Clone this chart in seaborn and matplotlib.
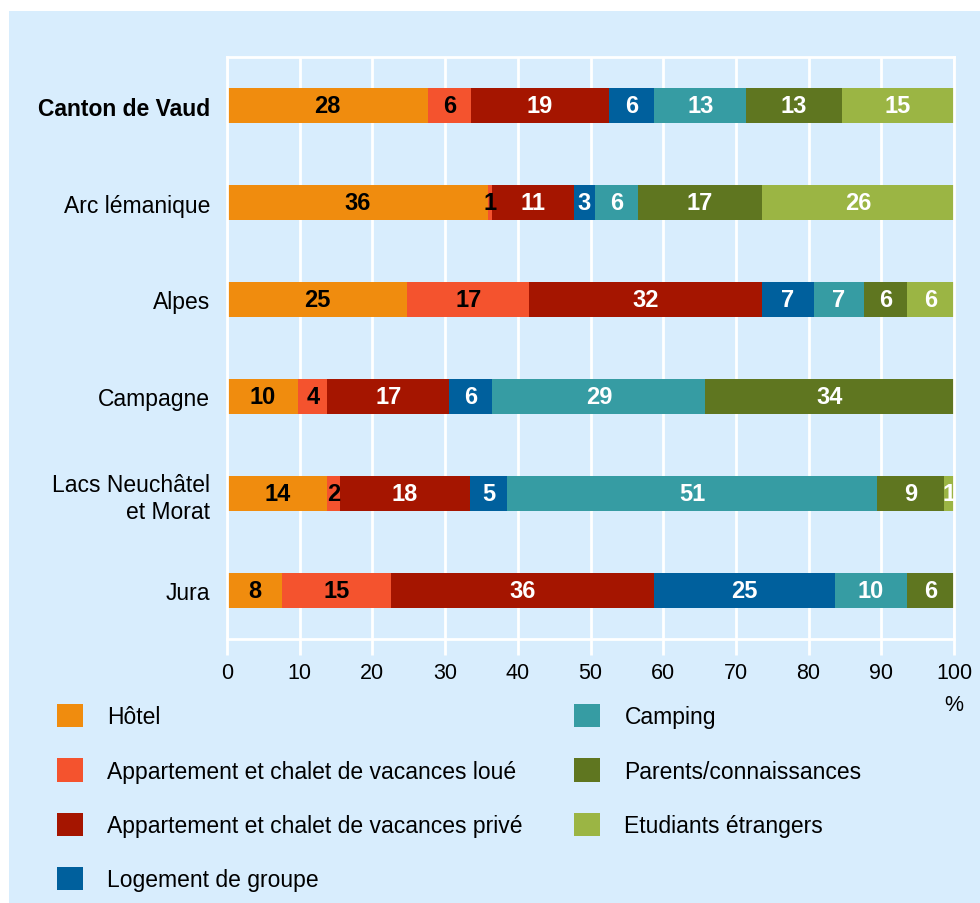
import matplotlib
matplotlib.use("Agg")
import matplotlib.pyplot as plt
from matplotlib.patches import Rectangle
import numpy as np
import seaborn as sns

# Données (parts en %)
regions = ["Canton de Vaud", "Arc lémanique", "Alpes", "Campagne",
           "Lacs Neuchâtel\net Morat", "Jura"]
categories = ["Hôtel", "Appartement et chalet de vacances loué",
              "Appartement et chalet de vacances privé", "Logement de groupe",
              "Camping", "Parents/connaissances", "Etudiants étrangers"]
hotel = [27.7, 35.9, 24.8, 9.8, 13.8, 7.6]
loue = [5.9, 0.6, 16.8, 4.0, 1.8, 15.0]
prive = [18.9, 11.2, 32.0, 16.8, 17.8, 36.2]
groupe = [6.3, 2.9, 7.1, 5.9, 5.1, 24.8]
camping = [12.6, 5.9, 6.9, 29.3, 50.9, 10.0]
parents = [13.2, 17.1, 6.0, 34.2, 9.2, 6.4]
etudiants = [15.4, 26.4, 6.4, 0.0, 1.4, 0.0]
x_ticks = [0, 10, 20, 30, 40, 50, 60, 70, 80, 90, 100]

series = [hotel, loue, prive, groupe, camping, parents, etudiants]
colors = ["#f08c0e", "#f4532e", "#a51500", "#00609d", "#369ca3", "#5f7620", "#9bb544"]
text_colors = ["black", "black", "white", "white", "white", "white", "white"]
bg = "#d8edfd"

sns.set_style("white")
plt.rcParams["font.family"] = ["Liberation Sans", "DejaVu Sans"]
plt.rcParams["text.color"] = "black"

fig = plt.figure(figsize=(9.8, 9.04), dpi=100)
fig.add_artist(Rectangle((9 / 980, 0), 1, 1 - 12 / 904, transform=fig.transFigure,
                         facecolor=bg, edgecolor="none", zorder=-10))
ax = fig.add_axes([227 / 980, 1 - 640 / 904, 727 / 980, 582 / 904])
ax.set_facecolor(bg)

left = np.zeros(len(regions))
for vals, name, col, tc in zip(series, categories, colors, text_colors):
    sns.barplot(x=vals, y=regions, orient="h", color=col, saturation=1,
                width=0.37, errorbar=None, left=left, label=name,
                linewidth=0, edgecolor="none", ax=ax)
    cont = ax.containers[-1]
    ax.bar_label(cont, labels=[f"{v:.0f}" if v > 0 else "" for v in vals],
                 label_type="center", color=tc, fontsize=17, fontweight="bold")
    left = left + np.array(vals)

if ax.get_legend() is not None:
    ax.get_legend().remove()

ax.set_xlim(0, 100)
ax.set_xticks(x_ticks)
ax.xaxis.grid(True, color="white", linewidth=2)
ax.yaxis.grid(False)
ax.set_axisbelow(True)
for sp in ax.spines.values():
    sp.set_visible(True)
    sp.set_color("white")
    sp.set_linewidth(2)

ax.tick_params(axis="x", bottom=True, length=11.5, width=2, color="white",
               pad=5, labelsize=15.5, labelcolor="black")
ax.tick_params(axis="y", left=False, length=0, pad=12, labelsize=16.5, labelcolor="black")
ax.get_yticklabels()[0].set_fontweight("bold")
ax.set_ylabel("")
ax.set_xlabel("%", fontsize=15.5, color="black")
ax.xaxis.label.set_horizontalalignment("center")
ax.xaxis.set_label_coords(1.0, -0.095)

handles = ax.containers
leg_kw = dict(frameon=False, borderpad=0, borderaxespad=0, handlelength=1.15,
              handleheight=1.2, handletextpad=1.05, labelspacing=1.3, fontsize=16.5,
              loc="upper left", labelcolor="black")
leg1 = fig.legend(handles[:4], categories[:4], bbox_to_anchor=(57 / 980, 1 - 705 / 904), **leg_kw)
leg2 = fig.legend(handles[4:], categories[4:], bbox_to_anchor=(574 / 980, 1 - 705 / 904), **leg_kw)

fig.savefig("out.png", dpi=100)
